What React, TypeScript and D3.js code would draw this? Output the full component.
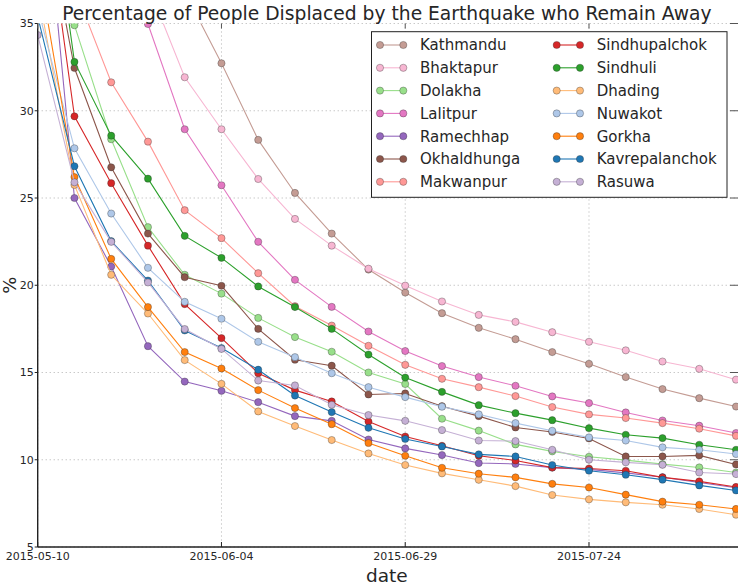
import * as d3 from 'd3';

const W = 738;
const H = 588;
const M = { left: 37.7, right: 736, top: 23.5, bottom: 547 };

const dates = [
  '2015-05-10', '2015-05-15', '2015-05-20', '2015-05-25', '2015-05-30',
  '2015-06-04', '2015-06-09', '2015-06-14', '2015-06-19', '2015-06-24',
  '2015-06-29', '2015-07-04', '2015-07-09', '2015-07-14', '2015-07-19',
  '2015-07-24', '2015-07-29', '2015-08-03', '2015-08-08', '2015-08-13',
];

const xTicks = ['2015-05-10', '2015-06-04', '2015-06-29', '2015-07-24'];
const yTicks = [5, 10, 15, 20, 25, 30, 35];

// values, first points above 35 are clipped
const kathmandu = [53, 48, 44, 40, 36.8, 32.72, 28.33, 25.29, 22.96, 20.9, 19.58, 18.4, 17.56, 16.91, 16.17, 15.5, 14.74, 14.05, 13.53, 13.05];
const bhaktapur = [52, 46, 41, 37.2, 31.92, 28.94, 26.09, 23.8, 22.27, 20.95, 19.98, 19.07, 18.3, 17.9, 17.31, 16.76, 16.27, 15.63, 15.21, 14.59];
const dolakha = [48, 34.9, 28.37, 23.33, 20.6, 19.52, 18.13, 17.03, 16.19, 15.0, 14.34, 12.35, 11.67, 10.88, 10.48, 10.17, 9.98, 9.75, 9.56, 9.27];
const lalitpur = [58, 50, 41, 34.97, 28.94, 25.73, 22.49, 20.31, 18.76, 17.35, 16.23, 15.37, 14.74, 14.24, 13.63, 13.25, 12.71, 12.25, 11.95, 11.53];
const ramechhap = [47, 25.0, 21.07, 16.51, 14.48, 13.95, 13.3, 12.5, 12.23, 11.16, 10.65, 10.27, 9.81, 9.76, 9.55, 9.45, 9.25, 9.0, 8.7, 8.4];
const okhaldhunga = [43.5, 32.45, 26.76, 22.96, 20.46, 19.97, 17.5, 15.73, 15.39, 13.74, 13.8, 13.07, 12.5, 11.85, 11.59, 11.22, 10.19, 10.19, 10.25, 9.73];
const makwanpur = [45, 37.04, 31.63, 28.23, 24.3, 22.7, 20.69, 18.8, 17.69, 16.53, 15.44, 14.64, 14.16, 13.65, 13.02, 12.6, 12.39, 12.1, 11.78, 11.37];
const sindhupalchok = [45, 29.68, 25.85, 22.27, 18.92, 16.97, 14.96, 13.99, 13.34, 12.19, 11.33, 10.8, 10.23, 9.96, 9.55, 9.5, 9.37, 8.99, 8.76, 8.44];
const sindhuli = [48, 32.8, 28.57, 26.11, 22.83, 21.57, 19.93, 18.75, 17.5, 16.03, 14.71, 13.89, 13.13, 12.67, 12.27, 11.81, 11.43, 11.24, 10.86, 10.57];
const dhading = [36.9, 25.75, 20.6, 18.38, 15.71, 14.35, 12.77, 11.93, 11.13, 10.36, 9.7, 9.22, 8.85, 8.49, 7.98, 7.73, 7.56, 7.42, 7.18, 6.85];
const nuwakot = [35.9, 27.85, 24.11, 21.0, 19.05, 18.08, 16.76, 15.88, 14.96, 14.16, 13.59, 13.04, 12.6, 12.1, 11.66, 11.28, 11.1, 10.71, 10.57, 10.33];
const gorkha = [38.5, 26.2, 21.51, 18.75, 16.17, 15.23, 13.99, 12.96, 12.04, 10.96, 10.23, 9.54, 9.2, 8.99, 8.62, 8.41, 8.0, 7.6, 7.42, 7.18];
const kavrepalanchok = [35.4, 26.82, 22.53, 20.27, 17.41, 16.4, 15.16, 13.68, 12.73, 11.83, 11.19, 10.76, 10.31, 10.19, 9.7, 9.37, 9.14, 8.86, 8.53, 8.24];
const rasuwa = [34.34, 25.9, 22.49, 20.16, 17.49, 16.35, 14.54, 14.26, 13.15, 12.56, 12.23, 11.7, 11.1, 11.07, 10.57, 10.0, 9.85, 9.71, 9.27, 9.18];

const districts = [
  'Kathmandu', 'Bhaktapur', 'Dolakha', 'Lalitpur', 'Ramechhap', 'Okhaldhunga', 'Makwanpur',
  'Sindhupalchok', 'Sindhuli', 'Dhading', 'Nuwakot', 'Gorkha', 'Kavrepalanchok', 'Rasuwa',
];
const values = [
  kathmandu, bhaktapur, dolakha, lalitpur, ramechhap, okhaldhunga, makwanpur,
  sindhupalchok, sindhuli, dhading, nuwakot, gorkha, kavrepalanchok, rasuwa,
];
const colors = [
  '#c49c94', '#f7b6d2', '#98df8a', '#e377c2', '#9467bd', '#8c564b', '#ff9896',
  '#d62728', '#2ca02c', '#ffbb78', '#aec7e8', '#ff7f0e', '#1f77b4', '#c5b0d5',
];

const parse = d3.utcParse('%Y-%m-%d');
const FONT = 'DejaVu Sans, sans-serif';
const TXT = '#262626';

export default function App() {
  const x = d3.scaleUtc()
    .domain([parse(dates[0])!, parse(dates[dates.length - 1])!])
    .range([M.left, M.right]);
  const y = d3.scaleLinear().domain([5, 35]).range([M.bottom, M.top]);

  const line = d3.line<number>()
    .x((_, i) => x(parse(dates[i])!))
    .y(d => y(d));

  const legendRows = 7;
  const legX = [380, 556.7];
  const legY0 = 45;
  const legDy = 22.8;

  return (
    <svg width={W} height={H} style={{ position: 'absolute', left: 0, top: 0, background: '#fff' }}
      fontFamily={FONT}>
      <defs>
        <clipPath id="plot">
          <rect x={M.left} y={M.top} width={M.right - M.left + 4} height={M.bottom - M.top} />
        </clipPath>
      </defs>

      {/* grid */}
      {yTicks.map(t => (
        <line key={'gy' + t} x1={M.left} x2={W} y1={y(t)} y2={y(t)}
          stroke="#b0b0b0" strokeDasharray="1,3" strokeWidth={1} />
      ))}
      {xTicks.map(t => (
        <line key={'gx' + t} x1={x(parse(t)!)} x2={x(parse(t)!)} y1={M.top} y2={M.bottom}
          stroke="#b0b0b0" strokeDasharray="1,3" strokeWidth={1} />
      ))}

      {/* series */}
      <g clipPath="url(#plot)">
        {values.map((vals, k) => (
          <g key={districts[k]}>
            <path d={line(vals) ?? ''} fill="none" stroke={colors[k]} strokeWidth={1.1} />
            {vals.map((v, i) => (
              <circle key={i} cx={x(parse(dates[i])!)} cy={y(v)} r={3.6}
                fill={colors[k]} stroke="rgba(40,40,40,0.55)" strokeWidth={0.6} />
            ))}
          </g>
        ))}
      </g>

      {/* axes */}
      <line x1={M.left} x2={M.left} y1={M.top} y2={M.bottom} stroke="#222" strokeWidth={1.4} />
      <line x1={M.left} x2={W} y1={M.bottom} y2={M.bottom} stroke="#222" strokeWidth={1.4} />
      {yTicks.map(t => (
        <g key={'ty' + t}>
          <line x1={M.left - 3} x2={M.left} y1={y(t)} y2={y(t)} stroke="#222" />
          <line x1={M.right - 6} x2={W} y1={y(t)} y2={y(t)} stroke="#555" />
          <text x={M.left - 4} y={y(t)} dy="0.35em" textAnchor="end" fontSize={11} fill={TXT}>{t}</text>
        </g>
      ))}
      {xTicks.map(t => (
        <g key={'tx' + t}>
          <line x1={x(parse(t)!)} x2={x(parse(t)!)} y1={M.top} y2={M.top + 5} stroke="#555" />
          <line x1={x(parse(t)!)} x2={x(parse(t)!)} y1={M.bottom - 5} y2={M.bottom} stroke="#222" />
          <text x={x(parse(t)!)} y={M.bottom + 13} textAnchor="middle" fontSize={11} fill={TXT}>{t}</text>
        </g>
      ))}

      {/* labels */}
      <text x={(M.left + M.right) / 2} y={20} textAnchor="middle" fontSize={18.7} fill={TXT}>
        Percentage of People Displaced by the Earthquake who Remain Away
      </text>
      <text x={(M.left + M.right) / 2} y={582} textAnchor="middle" fontSize={18.5} fill={TXT}>date</text>
      <text transform={`translate(16,${(M.top + M.bottom) / 2}) rotate(-90)`} textAnchor="middle"
        fontSize={18} fill={TXT}>%</text>

      {/* legend */}
      <rect x={371.5} y={31.7} width={355.5} height={165.6} fill="#fff" stroke="#222" strokeWidth={1} />
      {districts.map((name, k) => {
        const col = Math.floor(k / legendRows);
        const row = k % legendRows;
        const lx = legX[col];
        const ly = legY0 + row * legDy;
        return (
          <g key={'lg' + name}>
            <line x1={lx} x2={lx + 23.3} y1={ly} y2={ly} stroke={colors[k]} strokeWidth={1.1} />
            <circle cx={lx} cy={ly} r={3.6} fill={colors[k]} stroke="rgba(40,40,40,0.55)" strokeWidth={0.6} />
            <circle cx={lx + 23.3} cy={ly} r={3.6} fill={colors[k]} stroke="rgba(40,40,40,0.55)" strokeWidth={0.6} />
            <text x={lx + 40} y={ly} dy="0.36em" fontSize={15} fill={TXT}>{name}</text>
          </g>
        );
      })}
    </svg>
  );
}
